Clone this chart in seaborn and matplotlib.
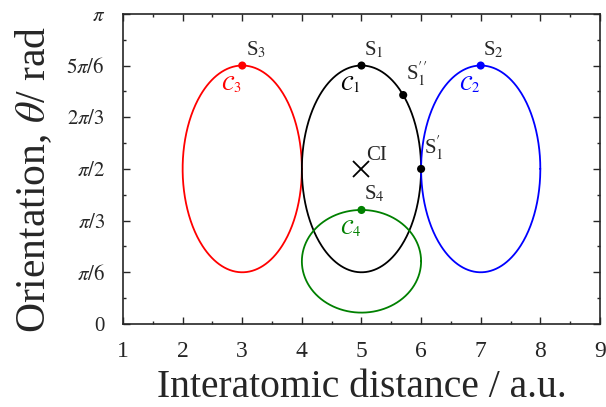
import numpy as np
import pandas as pd
import seaborn as sns
import matplotlib.pyplot as plt
from matplotlib.ticker import MultipleLocator

# ellipse parameters (centre x, centre theta, half-width, half-height)
curve_names = ["C3", "C1", "C2", "C4"]
curve_colors = ["red", "black", "blue", "green"]
center_x = [3.0, 5.0, 7.0, 5.0]
center_y = [np.pi / 2, np.pi / 2, np.pi / 2, 0.635]
half_w = [1.0, 1.0, 1.0, 1.0]
half_h = [np.pi / 3, np.pi / 3, np.pi / 3, 0.52]

# special points
pt_names = ["S3", "S1", "S1pp", "S1p", "S2", "S4"]
pt_x = [3.0, 5.0, 5.7, 6.0, 7.0, 5.0]
pt_y = [5 * np.pi / 6, 5 * np.pi / 6, 2.319, np.pi / 2, 5 * np.pi / 6, 1.155]
pt_colors = ["red", "black", "black", "black", "blue", "green"]
pt_labels = ["S$_3$", "S$_1$", "S$_1^{\\prime\\prime}$", "S$_1^{\\prime}$", "S$_2$", "S$_4$"]
ci_x, ci_y = 5.0, np.pi / 2

ytick_vals = [0, np.pi / 6, np.pi / 3, np.pi / 2, 2 * np.pi / 3, 5 * np.pi / 6, np.pi]
ytick_labels = ["0", "$\\pi/6$", "$\\pi/3$", "$\\pi/2$", "$2\\pi/3$", "$5\\pi/6$", "$\\pi$"]

sns.set_style("ticks")
plt.rcParams["font.family"] = "serif"
plt.rcParams["font.serif"] = ["Liberation Serif", "DejaVu Serif"]
plt.rcParams["mathtext.fontset"] = "stix"

t = np.linspace(0, 2 * np.pi, 400)
rows = []
for n, cx, cy, a, b in zip(curve_names, center_x, center_y, half_w, half_h):
    for i, tt in enumerate(t):
        rows.append({"curve": n, "i": i, "x": cx + a * np.cos(tt), "y": cy + b * np.sin(tt)})
df = pd.DataFrame(rows)

fig = plt.figure(figsize=(6.06, 4.07), dpi=100)
ax = fig.add_axes([0.203, 0.204, 0.787, 0.762])

sns.lineplot(data=df, x="x", y="y", hue="curve", units="curve", estimator=None,
             sort=False, palette=dict(zip(curve_names, curve_colors)),
             linewidth=1.3, legend=False, ax=ax)

pts = pd.DataFrame({"name": pt_names, "x": pt_x, "y": pt_y})
sns.scatterplot(data=pts, x="x", y="y", hue="name",
                palette=dict(zip(pt_names, pt_colors)), s=34,
                edgecolor="none", legend=False, ax=ax, zorder=5)
ax.plot(ci_x, ci_y, marker="x", color="black", markersize=11, mew=1.3)

# point labels
offsets = [(3, 4), (2, 4), (2, 5), (2, 5), (2, 4), (2, 4)]
for (x, y, lab, off) in zip(pt_x, pt_y, pt_labels, offsets):
    ax.annotate(lab, (x, y), xytext=off, textcoords="offset points",
                fontsize=15, ha="left", va="bottom")
ax.annotate("CI", (ci_x, ci_y), xytext=(3, 3), textcoords="offset points",
            fontsize=15, ha="left", va="bottom")

# curve labels
curve_lab_pos = [(3.0, 5 * np.pi / 6), (5.0, 5 * np.pi / 6), (7.0, 5 * np.pi / 6), (5.0, 1.155)]
curve_lab = ["$\\mathcal{C}_3$", "$\\mathcal{C}_1$", "$\\mathcal{C}_2$", "$\\mathcal{C}_4$"]
for (x, y), lab, c in zip(curve_lab_pos, curve_lab, curve_colors):
    ax.annotate(lab, (x, y), xytext=(-8, -6.5), textcoords="offset points",
                fontsize=15, ha="center", va="top", color=c)

ax.set_xlim(1, 9)
ax.set_ylim(0, np.pi)
ax.set_xticks(range(1, 10))
ax.xaxis.set_minor_locator(MultipleLocator(0.5))
ax.set_yticks(ytick_vals)
ax.set_yticklabels(ytick_labels)
ax.yaxis.set_minor_locator(MultipleLocator(np.pi / 12))
ax.tick_params(which="both", direction="in", top=True, right=True, width=1.0)
ax.tick_params(which="major", length=5)
ax.tick_params(which="minor", length=2.5)
ax.tick_params(axis="x", labelsize=17, pad=12)
ax.tick_params(axis="y", labelsize=15, pad=13)
for sp in ax.spines.values():
    sp.set_linewidth(1.2)
    sp.set_visible(True)

ax.set_xlabel("Interatomic distance / a.u.", fontsize=28.5)
ax.set_ylabel("Orientation, $\\theta$/ rad", fontsize=30)
ax.xaxis.set_label_coords(0.5, -0.145)
ax.yaxis.set_label_coords(-0.145, 0.465)

fig.savefig("out.png", dpi=100)
